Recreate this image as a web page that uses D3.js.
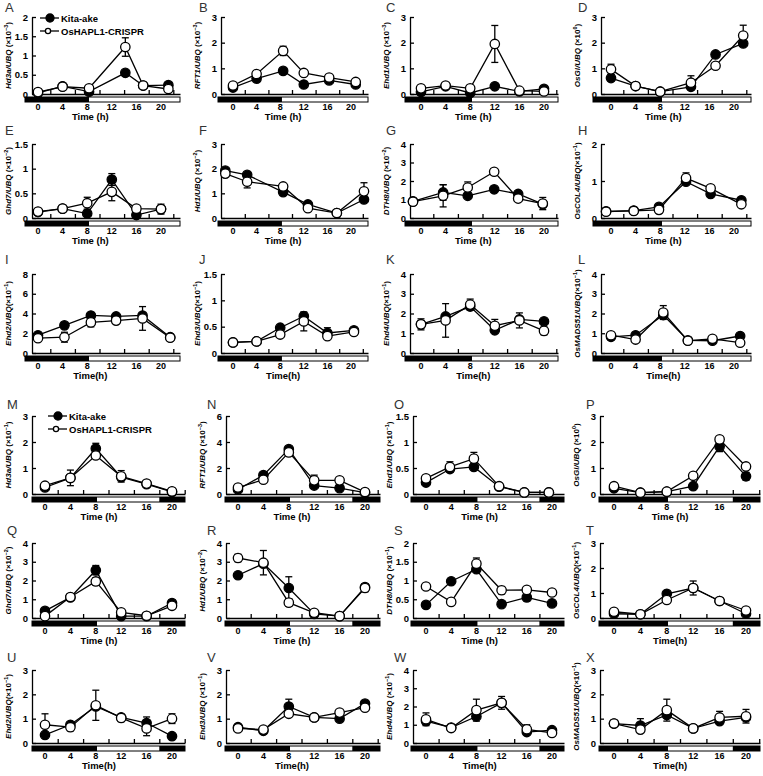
<!DOCTYPE html>
<html><head><meta charset="utf-8">
<script src="https://cdn.jsdelivr.net/npm/d3@7"></script>
<style>body{margin:0;background:#fff} svg{display:block;font-family:Arial,"Liberation Sans",sans-serif}</style>
</head><body><svg id="c" width="763" height="776"></svg>
<script>
// ---------------- DATA ----------------
const panelLetters = ["A","B","C","D","E","F","G","H","I","J","K","L","M","N","O","P","Q","R","S","T","U","V","W","X"];
const genes = ["Hd3a","RFT1","Ehd1","OsGI","Ghd7","Hd1","DTH8","OsCOL4","Ehd2","Ehd3","Ehd4","OsMADS51",
               "Hd3a","RFT1","Ehd1","OsGI","Ghd7","Hd1","DTH8","OsCOL4","Ehd2","Ehd3","Ehd4","OsMADS51"];
const exponents = ["−3","−3","−3","0","−2","−2","−2","−1","−1","−1","−1","−1",
                   "−1","−3","−1","0","−2","−2","−1","−1","−1","−1","−1","−1"];
const labelSpace = [true,true,true,true,true,true,true,false,false,false,false,false,
                    true,true,true,true,true,true,true,false,false,true,true,false];
const xTitles = ["Time (h)","Time (h)","Time (h)","Time (h)","Time (h)","Time (h)","Time (h)","Time (h)",
                 "Time(h)","Time(h)","Time(h)","Time(h)",
                 "Time (h)","Time (h)","Time (h)","Time (h)","Time (h)","Time (h)","Time (h)","Time(h)",
                 "Time(h)","Time(h)","Time(h)","Time(h)"];
const seriesNames = ["Kita-ake","OsHAPL1-CRISPR"];
const timeLabels = [0,4,8,12,16,20];
const minorTicks = [2,6,10,14,18,22];
const lightsOnTop = [8.3];          // dark -> light
const photoperiodBottom = [8.2, 18]; // dark -> light -> dark
const yTicks = [
  [0,0.5,1,1.5,2],[0,1,2,3],[0,1,2,3],[0,1,2,3],
  [0,0.5,1,1.5],[0,1,2,3],[0,1,2,3,4],[0,1,2],
  [0,2,4,6,8],[0,0.5,1,1.5],[0,1,2,3,4],[0,1,2,3,4],
  [0,1,2,3],[0,2,4,6],[0,0.5,1,1.5],[0,1,2,3],
  [0,1,2,3,4],[0,1,2,3,4],[0,0.5,1,1.5,2],[0,1,2,3],
  [0,1,2,3],[0,1,2,3],[0,1,2,3,4],[0,1,2,3]
];
const sampleTimes = [
  [0,4,8.3,14.2,17.1,21.2],[0,4,8.5,12,16.3,20.8],[0,4,8,12,16,20],[0,4,8,13,17,21.5],
  [0,4,8,12,16,20],[-1.3,2.4,8.5,12.7,17.6,22.2],[-1.3,3.6,7.6,11.9,15.8,19.8],[-0.8,3.7,7.8,12.2,16.2,21.2],
  [0,4.3,8.6,12.7,17,21.5],[0,4,8,12,16,20.5],[0,4,8,12,16,20],[0,4,8.5,12.5,16.5,21],
  [0,4,8,12,16,20],[0,4,8,12,16,20],[0,3.8,7.6,11.6,15.6,19.5],[0,4,8,12,16,20],
  [0,4,8,12,16,20],[0,4,8,12,16,20],[0,4,8,12,16,20],[0,4,8,12,16,20],
  [0,4,8,12,16,20],[0,4,8,12,16,20],[0,4,8,12,16,20],[0,4,8,12,16,20]
];
const kitaValues = [
  [0.03,0.2,0.06,0.55,0.22,0.23],[0.25,0.6,0.9,0.37,0.53,0.37],[0.08,0.3,0.04,0.3,0.1,0.2],[0.62,0.31,0.09,0.28,1.54,1.97],
  [0.12,0.19,0.09,0.78,0.06,0.18],[1.92,1.75,1.05,0.55,0.2,0.75],[0.9,1.38,1.2,1.55,1.3,0.75],[0.18,0.2,0.3,0.98,0.65,0.48],
  [1.8,2.8,3.8,3.7,3.8,1.6],[0.2,0.22,0.48,0.7,0.38,0.43],[1.45,1.85,2.35,1.15,1.7,1.6],[0.82,0.9,1.92,0.64,0.62,0.86],
  [0.25,0.62,1.75,0.65,0.38,0.08],[0.35,1.45,3.45,0.65,0.45,0.1],[0.22,0.48,0.52,0.14,0.03,0.03],[0.22,0.05,0.09,0.3,1.83,0.68],
  [0.38,1.1,2.55,0.1,0.1,0.8],[2.28,2.9,1.6,0.22,0.1,1.65],[0.35,0.98,1.3,0.37,0.55,0.39],[0.17,0.15,0.97,1.2,0.68,0.17],
  [0.33,0.75,1.5,1.05,0.82,0.28],[0.65,0.5,1.5,1.05,1.0,1.62],[1.2,0.85,1.45,2.2,0.6,0.7],[0.8,0.72,1.15,0.6,0.9,1.05]
];
const crisprValues = [
  [0.05,0.19,0.15,1.22,0.22,0.13],[0.33,0.78,1.68,0.82,0.64,0.47],[0.22,0.33,0.22,1.95,0.13,0.1],[0.96,0.31,0.09,0.44,1.1,2.28],
  [0.13,0.19,0.3,0.53,0.19,0.18],[1.8,1.47,1.28,0.4,0.2,1.08],[0.88,1.2,1.65,2.5,1.05,0.78],[0.17,0.19,0.22,1.08,0.8,0.37],
  [1.5,1.6,3.1,3.28,3.5,1.55],[0.2,0.22,0.35,0.6,0.32,0.4],[1.45,1.65,2.45,1.38,1.65,1.12],[0.9,0.68,2.05,0.62,0.72,0.52],
  [0.32,0.62,1.48,0.68,0.4,0.1],[0.5,1.1,3.2,1.05,1.05,0.15],[0.3,0.52,0.68,0.15,0.03,0.03],[0.3,0.05,0.09,0.7,2.1,1.06],
  [0.1,1.12,1.95,0.3,0.12,0.65],[3.2,2.95,0.82,0.28,0.1,1.6],[0.84,0.43,1.45,0.74,0.75,0.68],[0.25,0.15,0.72,1.2,0.68,0.3],
  [0.75,0.65,1.55,1.03,0.6,1.0],[0.6,0.55,1.2,1.05,1.25,1.45],[1.3,0.82,1.8,2.2,0.75,0.55],[0.8,0.55,1.35,0.6,1.05,1.1]
];
const kitaErrors = [
  [0,0,0,0,0,0.05],[0.05,0,0.1,0,0,0],[0,0.05,0,0.05,0,0.05],[0.07,0,0,0.1,0,0],
  [0,0,0,0.12,0,0],[0.05,0.08,0.05,0,0,0.1],[0,0.42,0,0,0.15,0],[0,0,0,0,0,0],
  [0.2,0,0.25,0,0,0],[0,0,0,0,0.1,0],[0,0,0,0,0,0],[0.15,0,0,0,0,0.1],
  [0,0,0.2,0,0,0],[0,0,0,0,0,0],[0,0,0,0,0,0],[0,0,0,0,0.2,0.15],
  [0,0,0.25,0,0,0.15],[0,0,0.6,0,0,0.15],[0.05,0,0,0,0.1,0],[0,0,0,0,0,0],
  [0,0,0,0,0.25,0],[0,0,0.3,0,0,0.12],[0,0,0,0,0,0],[0,0.28,0,0,0,0]
];
const crisprErrors = [
  [0,0.03,0.06,0.24,0.03,0.03],[0,0,0.18,0.08,0,0],[0,0.08,0,0.72,0,0.05],[0.2,0.05,0,0.27,0,0.4],
  [0,0,0.12,0.18,0,0.1],[0.08,0.25,0,0,0,0.35],[0.15,0.6,0.3,0.17,0.15,0.33],[0,0,0,0.14,0,0],
  [0,0.5,0.45,0,1.2,0],[0,0,0,0.18,0,0],[0.28,0.85,0.28,0.32,0.38,0.2],[0.12,0,0.35,0,0,0],
  [0,0.3,0,0.22,0,0],[0,0,0,0.4,0,0],[0,0.1,0.12,0,0,0],[0.12,0,0,0,0.1,0],
  [0,0.1,0.2,0,0,0.15],[0.2,0.65,0.2,0,0,0.2],[0,0,0.15,0.1,0.07,0.07],[0.08,0,0,0.28,0,0],
  [0.45,0.15,0.62,0.15,0.3,0.2],[0.12,0,0,0.1,0,0],[0.35,0,0.6,0.35,0.25,0],[0,0,0.45,0,0.25,0.28]
];

// ---------------- LAYOUT ----------------
const topCols = [
  {ax:32,right:180,x0:38,x20:161,barL:25},
  {ax:221,right:368,x0:233,x20:351,barL:218},
  {ax:410,right:558,x0:421,x20:544,barL:405},
  {ax:601,right:751,x0:611,x20:734,barL:593}];
const botCols = [
  {ax:32,right:185,x0:45,x20:172,barL:32},
  {ax:226,right:380,x0:238,x20:365,barL:225},
  {ax:413,right:564,x0:426,x20:552,barL:411},
  {ax:600,right:760,x0:614,x20:746,barL:599}];
const rows = [
  {top:17,bot:94,ly:12},{top:144,bot:218,ly:135},{top:274,bot:353,ly:264},
  {top:416,bot:494,ly:409},{top:543,bot:618,ly:535},{top:670,bot:743,ly:662}];
const topLetterX = [5,199,386,578], botLetterX = [7,207,394,586];

const svg = d3.select("#c");
const R = 4.7, SW = 1.3;

panelLetters.forEach((letter, i) => {
  const half = i < 12 ? 0 : 1;
  const j = i % 12;
  const row = rows[Math.floor(j/4) + half*3];
  const col = (half ? botCols : topCols)[j % 4];
  const k = (col.x20 - col.x0) / 20;
  const hA = (col.ax - col.x0)/k, hR = (col.right - col.x0)/k, hL = (col.barL - col.x0)/k;
  const x = d3.scaleLinear().domain([hA, hR]).range([col.ax, col.right]);
  const y = d3.scaleLinear().domain([0, d3.max(yTicks[i])]).range([row.bot, row.top]);
  const g = svg.append("g");

  g.append("text").attr("x", (half ? botLetterX : topLetterX)[j%4]).attr("y", row.ly)
    .attr("font-size", 13).attr("fill", "#333").text(letter);

  // y axis
  const ya = g.append("g").attr("transform", `translate(${col.ax},0)`)
    .call(d3.axisLeft(y).tickValues(yTicks[i]).tickSizeInner(-4).tickSizeOuter(0).tickPadding(4).tickFormat(d => String(d)));
  ya.selectAll("text").attr("font-size", 9.5).attr("font-weight", "bold").attr("font-family", "Arial, Liberation Sans, sans-serif");
  ya.selectAll("line,path").attr("stroke", "#000").attr("stroke-width", 1.3);

  // x axis (minor ticks pointing up, labels between)
  const xa = g.append("g").attr("transform", `translate(0,${row.bot})`)
    .call(d3.axisBottom(x).tickValues(minorTicks.filter(t => t <= hR + 0.01)).tickSizeInner(-4).tickSizeOuter(0).tickFormat(""));
  xa.selectAll("line,path").attr("stroke", "#000").attr("stroke-width", 1.3);

  // day/night bar
  const bt = row.bot + 3, bh = 5;
  const bounds = half ? [hL, ...photoperiodBottom, hR] : [hL, ...lightsOnTop, hR];
  for (let s = 0; s < bounds.length - 1; s++) {
    g.append("rect").attr("x", x(bounds[s])).attr("y", bt)
      .attr("width", x(bounds[s+1]) - x(bounds[s])).attr("height", bh)
      .attr("fill", s % 2 === 0 ? "#000" : "#fff");
  }
  g.append("rect").attr("x", x(hL)).attr("y", bt).attr("width", x(hR) - x(hL)).attr("height", bh)
    .attr("fill", "none").attr("stroke", "#000").attr("stroke-width", 1);

  // x tick labels
  g.selectAll(".tl").data(timeLabels).enter().append("text")
    .attr("x", d => x(d)).attr("y", row.bot + 15.5).attr("text-anchor", "middle")
    .attr("font-size", 9).attr("font-weight", "bold").text(d => d);
  g.append("text").attr("x", x(8.5)).attr("y", row.bot + 26).attr("text-anchor", "middle")
    .attr("font-size", 9.5).attr("font-weight", "bold").text(xTitles[i]);

  // y label
  const lab = g.append("text")
    .attr("transform", `translate(${col.ax - 21},${(row.top + row.bot)/2}) rotate(-90)`)
    .attr("text-anchor", "middle").attr("font-size", 8).attr("font-weight", "bold");
  lab.append("tspan").attr("font-style", "italic").text(genes[i] + "/UBQ");
  lab.append("tspan").text((labelSpace[i] ? " " : "") + "(×10");
  lab.append("tspan").attr("dy", -3.5).attr("font-size", 5.5).text(exponents[i]);
  lab.append("tspan").attr("dy", 3.5).text(")");

  const series = [
    {vals: kitaValues[i], errs: kitaErrors[i], fill: "#000"},
    {vals: crisprValues[i], errs: crisprErrors[i], fill: "#fff"}];
  const line = d3.line().x(d => x(d.t)).y(d => y(d.v));
  series.forEach(s => {
    const pts = s.vals.map((v, n) => ({t: sampleTimes[i][n], v, e: s.errs[n]}));
    s.pts = pts;
    g.append("path").attr("d", line(pts)).attr("fill", "none").attr("stroke", "#000").attr("stroke-width", SW);
  });
  series.forEach(s => {
    s.pts.filter(p => p.e > 0).forEach(p => {
      const cx = x(p.t), y1 = y(p.v + p.e), y2 = y(Math.max(0, p.v - p.e));
      g.append("line").attr("x1", cx).attr("x2", cx).attr("y1", y1).attr("y2", y2).attr("stroke", "#000").attr("stroke-width", SW);
      [y1, y2].forEach(yy => g.append("line").attr("x1", cx - 3.5).attr("x2", cx + 3.5).attr("y1", yy).attr("y2", yy)
        .attr("stroke", "#000").attr("stroke-width", SW));
    });
  });
  series.forEach(s => {
    g.selectAll(null).data(s.pts).enter().append("circle")
      .attr("cx", d => x(d.t)).attr("cy", d => y(d.v)).attr("r", R)
      .attr("fill", s.fill).attr("stroke", "#000").attr("stroke-width", SW);
  });

  // legend in panels A and M
  if (j === 0) {
    const lx = col.ax + (half ? 16 : 8), ly = row.top + (half ? 0 : 1);
    seriesNames.forEach((name, n) => {
      const yy = ly + n * 13;
      g.append("line").attr("x1", lx).attr("x2", lx + 19).attr("y1", yy).attr("y2", yy)
        .attr("stroke", "#000").attr("stroke-width", SW);
      g.append("circle").attr("cx", lx + (n ? 8 : 10)).attr("cy", yy).attr("r", n ? 2.6 : 4)
        .attr("fill", n ? "#fff" : "#000").attr("stroke", "#000").attr("stroke-width", SW);
      g.append("text").attr("x", lx + 21).attr("y", yy + 3.5).attr("font-size", 9.5)
        .attr("font-weight", "bold").text(name);
    });
  }
});
</script></body></html>
